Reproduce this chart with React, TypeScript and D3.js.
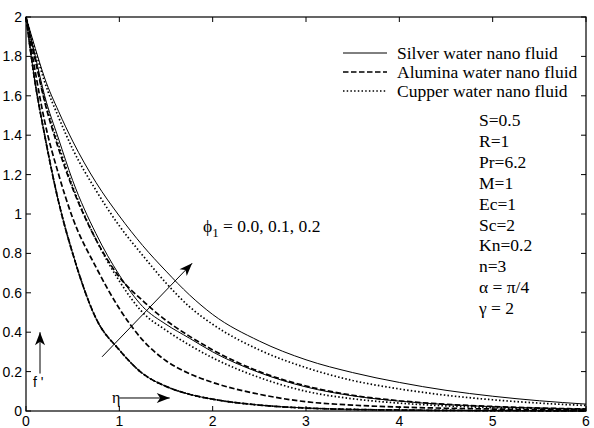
import React from "react";
import * as d3 from "d3";

const W = 594;
const H = 428;

// shared abscissa
const eta = [0, 0.1, 0.2, 0.35, 0.5, 0.75, 1, 1.25, 1.5, 1.75, 2, 2.5, 3, 3.5, 4, 4.5, 5, 5.5, 6];

// phi1 = 0.0 (all three fluids coincide)
const silverPhi0 = [2, 1.66, 1.4, 1.06, 0.8, 0.47, 0.31, 0.19, 0.125, 0.085, 0.06, 0.03, 0.015, 0.008, 0.005, 0.003, 0.002, 0.001, 0];
const aluminaPhi0 = [2, 1.66, 1.4, 1.06, 0.8, 0.47, 0.31, 0.19, 0.125, 0.085, 0.06, 0.03, 0.015, 0.008, 0.005, 0.003, 0.002, 0.001, 0];
const cupperPhi0 = [2, 1.66, 1.4, 1.06, 0.8, 0.47, 0.31, 0.19, 0.125, 0.085, 0.06, 0.03, 0.015, 0.008, 0.005, 0.003, 0.002, 0.001, 0];
// phi1 = 0.1
const silverPhi1 = [2, 1.8, 1.6, 1.38, 1.17, 0.9, 0.69, 0.53, 0.44, 0.37, 0.3, 0.195, 0.122, 0.077, 0.05, 0.033, 0.022, 0.015, 0.01];
const aluminaPhi1 = [2, 1.72, 1.47, 1.2, 0.98, 0.73, 0.52, 0.36, 0.255, 0.19, 0.145, 0.085, 0.047, 0.03, 0.02, 0.014, 0.01, 0.007, 0.005];
const cupperPhi1 = [2, 1.79, 1.58, 1.35, 1.14, 0.87, 0.66, 0.5, 0.41, 0.335, 0.27, 0.17, 0.1, 0.062, 0.04, 0.026, 0.017, 0.012, 0.008];
// phi1 = 0.2
const silverPhi2 = [2, 1.84, 1.69, 1.52, 1.37, 1.16, 0.99, 0.84, 0.71, 0.59, 0.49, 0.355, 0.26, 0.195, 0.145, 0.105, 0.075, 0.052, 0.035];
const aluminaPhi2 = [2, 1.78, 1.57, 1.33, 1.13, 0.87, 0.68, 0.56, 0.46, 0.38, 0.31, 0.2, 0.127, 0.08, 0.052, 0.034, 0.023, 0.015, 0.01];
const cupperPhi2 = [2, 1.83, 1.67, 1.49, 1.33, 1.12, 0.94, 0.79, 0.65, 0.53, 0.44, 0.31, 0.22, 0.155, 0.112, 0.08, 0.057, 0.04, 0.028];

const xTicks = [0, 1, 2, 3, 4, 5, 6];
const xTickLabels = ["0", "1", "2", "3", "4", "5", "6"];
const yTicks = [0, 0.2, 0.4, 0.6, 0.8, 1, 1.2, 1.4, 1.6, 1.8, 2];
const yTickLabels = ["0", "0.2", "0.4", "0.6", "0.8", "1", "1.2", "1.4", "1.6", "1.8", "2"];

const legendLabels = ["Silver water nano fluid", "Alumina water nano fluid", "Cupper water nano fluid"];
const paramLabels = ["S=0.5", "R=1", "Pr=6.2", "M=1", "Ec=1", "Sc=2", "Kn=0.2", "n=3", "\u03b1 = \u03c0/4", "\u03b3 = 2"];

type Style = "solid" | "dashed" | "dotted";
const styles: Record<Style, { w: number; dash?: string }> = {
  solid: { w: 1 },
  dashed: { w: 1.7, dash: "5.5,2.5" },
  dotted: { w: 1.7, dash: "1.5,2.2" },
};

const series: { values: number[]; style: Style }[] = [
  { values: silverPhi0, style: "solid" },
  { values: aluminaPhi0, style: "dashed" },
  { values: cupperPhi0, style: "dotted" },
  { values: silverPhi1, style: "solid" },
  { values: aluminaPhi1, style: "dashed" },
  { values: cupperPhi1, style: "dotted" },
  { values: silverPhi2, style: "solid" },
  { values: aluminaPhi2, style: "dashed" },
  { values: cupperPhi2, style: "dotted" },
];

const L = 26, R = 586, T = 17, B = 411;
const x = d3.scaleLinear().domain([0, 6]).range([L, R]);
const y = d3.scaleLinear().domain([0, 2]).range([B, T]);

const line = d3
  .line<[number, number]>()
  .x((d) => x(d[0]))
  .y((d) => y(d[1]))
  .curve(d3.curveMonotoneX);

function arrowHead(x1: number, y1: number, x2: number, y2: number, len = 13, half = 5, notch = 3.5) {
  const a = Math.atan2(y2 - y1, x2 - x1);
  const ux = Math.cos(a), uy = Math.sin(a);
  const px = -uy, py = ux;
  const bx = x2 - ux * len, by = y2 - uy * len;
  const nx = x2 - ux * (len - notch), ny = y2 - uy * (len - notch);
  return `M${x2},${y2}L${bx + px * half},${by + py * half}L${nx},${ny}L${bx - px * half},${by - py * half}Z`;
}

function Arrow({ x1, y1, x2, y2 }: { x1: number; y1: number; x2: number; y2: number }) {
  return (
    <g>
      <line x1={x1} y1={y1} x2={x2} y2={y2} stroke="#000" strokeWidth={1} />
      <path d={arrowHead(x1, y1, x2, y2)} fill="#000" />
    </g>
  );
}

const serif = "'Liberation Serif', 'Times New Roman', serif";
const sans = "'Liberation Sans', Arial, sans-serif";

export default function App() {
  const tick = 5;
  return (
    <svg width={W} height={H} style={{ position: "absolute", left: 0, top: 0, background: "#fff" }}>
      <rect x={0} y={0} width={W} height={H} fill="#fff" />
      {series.map((s, i) => {
        const st = styles[s.style];
        const pts = eta.map((e, k) => [e, s.values[k]] as [number, number]);
        return (
          <path key={i} d={line(pts) || ""} fill="none" stroke="#000" strokeWidth={st.w} strokeDasharray={st.dash} />
        );
      })}
      {/* axes box */}
      <rect x={L} y={T} width={R - L} height={B - T} fill="none" stroke="#000" strokeWidth={1.2} />
      {xTicks.map((t, i) => (
        <g key={"x" + i}>
          <line x1={x(t)} x2={x(t)} y1={B} y2={B - tick} stroke="#000" />
          <line x1={x(t)} x2={x(t)} y1={T} y2={T + tick} stroke="#000" />
          <text x={x(t)} y={426} textAnchor="middle" fontFamily={sans} fontSize={14}>
            {xTickLabels[i]}
          </text>
        </g>
      ))}
      {yTicks.map((t, i) => (
        <g key={"y" + i}>
          <line x1={L} x2={L + tick} y1={y(t)} y2={y(t)} stroke="#000" />
          <line x1={R} x2={R - tick} y1={y(t)} y2={y(t)} stroke="#000" />
          <text x={L - 4} y={y(t) + 5} textAnchor="end" fontFamily={sans} fontSize={14}>
            {yTickLabels[i]}
          </text>
        </g>
      ))}
      {/* legend */}
      {legendLabels.map((lab, i) => {
        const st = styles[(["solid", "dashed", "dotted"] as Style[])[i]];
        const cy = 53 + i * 19;
        return (
          <g key={"lg" + i}>
            <line x1={343} x2={387} y1={cy} y2={cy} stroke="#000" strokeWidth={st.w} strokeDasharray={st.dash} />
            <text x={397} y={cy + 6} fontFamily={serif} fontSize={17.5}>
              {lab}
            </text>
          </g>
        );
      })}
      {/* parameters */}
      {paramLabels.map((p, i) => (
        <text key={"p" + i} x={479} y={126 + i * 20.9} fontFamily={serif} fontSize={17.5}>
          {p}
        </text>
      ))}
      {/* phi annotation */}
      <text x={203} y={232} fontFamily={serif} fontSize={17.5}>
        {"\u03d5"}
        <tspan dy={5} fontSize={13}>1</tspan>
        <tspan dy={-5}>{" = 0.0, 0.1, 0.2"}</tspan>
      </text>
      <Arrow x1={x(0.815)} y1={y(0.275)} x2={x(1.78)} y2={y(0.75)} />
      {/* f' arrow */}
      <Arrow x1={x(0.15)} y1={y(0.19)} x2={x(0.15)} y2={y(0.4)} />
      <text x={33} y={387} fontFamily={sans} fontSize={14}>
        f '
      </text>
      {/* eta arrow */}
      <Arrow x1={x(1.0)} y1={y(0.066)} x2={x(1.54)} y2={y(0.066)} />
      <text x={112} y={403} fontFamily={serif} fontSize={16}>
        {"\u03b7"}
      </text>
    </svg>
  );
}
